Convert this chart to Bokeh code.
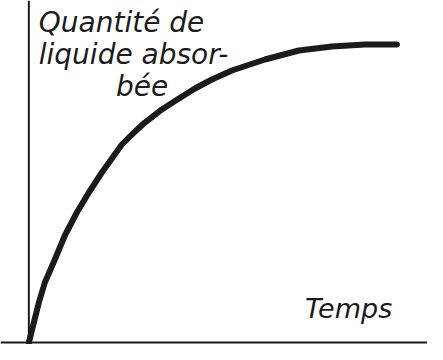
from bokeh.plotting import figure
from bokeh.models import Range1d, Span
from bokeh.core.properties import value
from bokeh.embed import file_html
from bokeh.resources import INLINE

# Data (time in arbitrary units, quantity in % of saturation)
time = [0.0, 0.136, 0.272, 0.435, 0.707, 0.978, 1.304, 1.630, 1.984, 2.527,
        2.799, 3.152, 3.614, 4.076, 4.511, 4.973, 5.516, 6.413, 7.337, 8.234,
        9.130, 10.0]
quantity = [0.0, 6.67, 13.33, 20.0, 27.67, 35.67, 43.33, 50.0, 56.67, 66.0,
            69.33, 73.33, 77.67, 81.33, 84.67, 87.67, 90.67, 94.33, 97.33, 98.67,
            99.33, 99.33]

y_label_lines = ["Quantité de", "liquide absor-", "bée"]
x_label = "Temps"

INK = "#1b1b1b"
FONT = value("DejaVu Sans")

p = figure(width=427, height=344, output_backend="svg", toolbar_location=None,
           x_range=Range1d(-0.77, 10.83), y_range=Range1d(-0.667, 114.0),
           min_border=0, outline_line_color=None, background_fill_color="white",
           border_fill_color="white")
p.axis.visible = False
p.grid.visible = False

# axes drawn as lines through the origin
p.add_layout(Span(location=0, dimension="height", line_color=INK, line_width=2))
p.add_layout(Span(location=0, dimension="width", line_color=INK, line_width=2))

p.line(time, quantity, line_color=INK, line_width=6, line_cap="round", line_join="round")

# y-axis label (three lines)
p.text(x=[0.27, 0.27, 2.37], y=[106.5, 96.0, 85.3], text=y_label_lines,
       text_font=FONT, text_font_style="italic", text_font_size="28px",
       text_color=INK, text_baseline="alphabetic", text_align="left")

# x-axis label
p.text(x=[7.5], y=[11.3], text=[x_label],
       text_font=FONT, text_font_style="italic", text_font_size="27px",
       text_color=INK, text_baseline="alphabetic", text_align="left")

open("out.html", "w").write(file_html(p, INLINE))
